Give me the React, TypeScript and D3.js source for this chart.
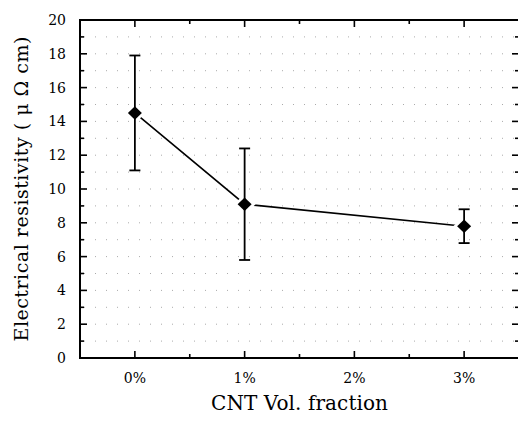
import React, { useRef, useEffect } from 'react';
import * as d3 from 'd3';

const categories = ['0%', '1%', '2%', '3%'];
const fractions = [0, 1, 3];
const resistivity = [14.5, 9.1, 7.8];
const errLow = [11.1, 5.8, 6.8];
const errHigh = [17.9, 12.4, 8.8];
const yTicks = [0, 2, 4, 6, 8, 10, 12, 14, 16, 18, 20];

// rhombus centred on 0,0
const diamondPath = (hw: number, hh: number) => {
  const p = d3.path();
  p.moveTo(0, -hh);
  p.lineTo(hw, 0);
  p.lineTo(0, hh);
  p.lineTo(-hw, 0);
  p.closePath();
  return p.toString();
};

const App = () => {
  const svgRef = useRef<SVGSVGElement>(null);

  useEffect(() => {
    const svg = d3.select(svgRef.current);
    svg.selectAll('*').remove();

    const left = 80, right = 519, top = 20, bottom = 358;
    const font = 'DejaVu Serif, serif';

    const x = d3.scaleLinear().domain([-0.5, 3.5]).range([left, right]);
    const y = d3.scaleLinear().domain([0, 20]).range([bottom, top]);

    const majorX = categories.map((_, i) => i);
    const minorX = d3.range(0.5, 3, 1);
    const minorY = d3.range(1, 20, 2);

    // faint dotted grid (scan residue)
    svg.append('g')
      .selectAll('line')
      .data(d3.range(1, 20))
      .enter().append('line')
      .attr('x1', left + 4).attr('x2', right - 4)
      .attr('y1', d => y(d)).attr('y2', d => y(d))
      .attr('stroke', '#aaa')
      .attr('stroke-width', 1)
      .attr('stroke-dasharray', '1 10');

    // frame
    svg.append('rect')
      .attr('x', left).attr('y', top)
      .attr('width', right - left).attr('height', bottom - top)
      .attr('fill', 'none')
      .attr('stroke', '#000').attr('stroke-width', 2);

    const ticks = svg.append('g').attr('stroke', '#000').attr('stroke-width', 1.6);
    // left / right y ticks
    ticks.selectAll('.yl').data(yTicks).enter().append('line')
      .attr('x1', left).attr('x2', left + 7)
      .attr('y1', d => y(d)).attr('y2', d => y(d));
    ticks.selectAll('.yl2').data(minorY).enter().append('line')
      .attr('x1', left).attr('x2', left + 4)
      .attr('y1', d => y(d)).attr('y2', d => y(d));
    ticks.selectAll('.yr').data(yTicks).enter().append('line')
      .attr('x1', right).attr('x2', right - 7)
      .attr('y1', d => y(d)).attr('y2', d => y(d));
    ticks.selectAll('.yr2').data(minorY).enter().append('line')
      .attr('x1', right).attr('x2', right - 4)
      .attr('y1', d => y(d)).attr('y2', d => y(d));
    // bottom / top x ticks
    ticks.selectAll('.xb').data(majorX).enter().append('line')
      .attr('x1', d => x(d)).attr('x2', d => x(d))
      .attr('y1', bottom).attr('y2', bottom - 7);
    ticks.selectAll('.xb2').data(minorX).enter().append('line')
      .attr('x1', d => x(d)).attr('x2', d => x(d))
      .attr('y1', bottom).attr('y2', bottom - 4);
    ticks.selectAll('.xt').data(majorX).enter().append('line')
      .attr('x1', d => x(d)).attr('x2', d => x(d))
      .attr('y1', top).attr('y2', top + 7);
    ticks.selectAll('.xt2').data(minorX).enter().append('line')
      .attr('x1', d => x(d)).attr('x2', d => x(d))
      .attr('y1', top).attr('y2', top + 4);

    // tick labels
    svg.append('g').selectAll('text').data(yTicks).enter().append('text')
      .attr('x', left - 14).attr('y', d => y(d) + 5)
      .attr('text-anchor', 'end')
      .attr('font-family', font).attr('font-size', 14)
      .text(d => d);

    svg.append('g').selectAll('text').data(categories).enter().append('text')
      .attr('x', (_, i) => x(i)).attr('y', bottom + 25)
      .attr('text-anchor', 'middle')
      .attr('font-family', font).attr('font-size', 14)
      .text(d => d);

    // axis titles
    svg.append('text')
      .attr('x', (left + right) / 2).attr('y', 410)
      .attr('text-anchor', 'middle')
      .attr('font-family', font).attr('font-size', 20)
      .attr('textLength', 177).attr('lengthAdjust', 'spacing')
      .text('CNT Vol. fraction');

    svg.append('text')
      .attr('transform', `translate(28,${(top + bottom) / 2}) rotate(-90)`)
      .attr('text-anchor', 'middle')
      .attr('font-family', font).attr('font-size', 19)
      .attr('textLength', 305).attr('lengthAdjust', 'spacing')
      .text('Electrical resistivity ( μ Ω cm)');

    const pts = fractions.map((f, i) => ({ f, v: resistivity[i], lo: errLow[i], hi: errHigh[i] }));

    // connecting line
    svg.append('path')
      .datum(pts)
      .attr('fill', 'none')
      .attr('stroke', '#000')
      .attr('stroke-width', 1.6)
      .attr('d', d3.line<any>().x(d => x(d.f)).y(d => y(d.v)));

    // white halo to open small gaps around markers
    svg.append('g').selectAll('path').data(pts).enter().append('path')
      .attr('transform', d => `translate(${x(d.f)},${y(d.v)})`)
      .attr('d', diamondPath(11, 10))
      .attr('fill', '#fff');

    // error bars
    const eb = svg.append('g').attr('stroke', '#000').attr('stroke-width', 1.8);
    eb.selectAll('.v').data(pts).enter().append('line')
      .attr('x1', d => x(d.f)).attr('x2', d => x(d.f))
      .attr('y1', d => y(d.lo)).attr('y2', d => y(d.hi));
    eb.selectAll('.lo').data(pts).enter().append('line')
      .attr('x1', d => x(d.f) - 5.5).attr('x2', d => x(d.f) + 5.5)
      .attr('y1', d => y(d.lo)).attr('y2', d => y(d.lo));
    eb.selectAll('.hi').data(pts).enter().append('line')
      .attr('x1', d => x(d.f) - 5.5).attr('x2', d => x(d.f) + 5.5)
      .attr('y1', d => y(d.hi)).attr('y2', d => y(d.hi));

    // markers
    svg.append('g').selectAll('path').data(pts).enter().append('path')
      .attr('transform', d => `translate(${x(d.f)},${y(d.v)})`)
      .attr('d', diamondPath(7, 6.8))
      .attr('fill', '#000');
  }, []);

  return (
    <svg
      ref={svgRef}
      width={518}
      height={421}
      style={{ position: 'absolute', left: 0, top: 0, background: '#fff' }}
    />
  );
};

export default App;
